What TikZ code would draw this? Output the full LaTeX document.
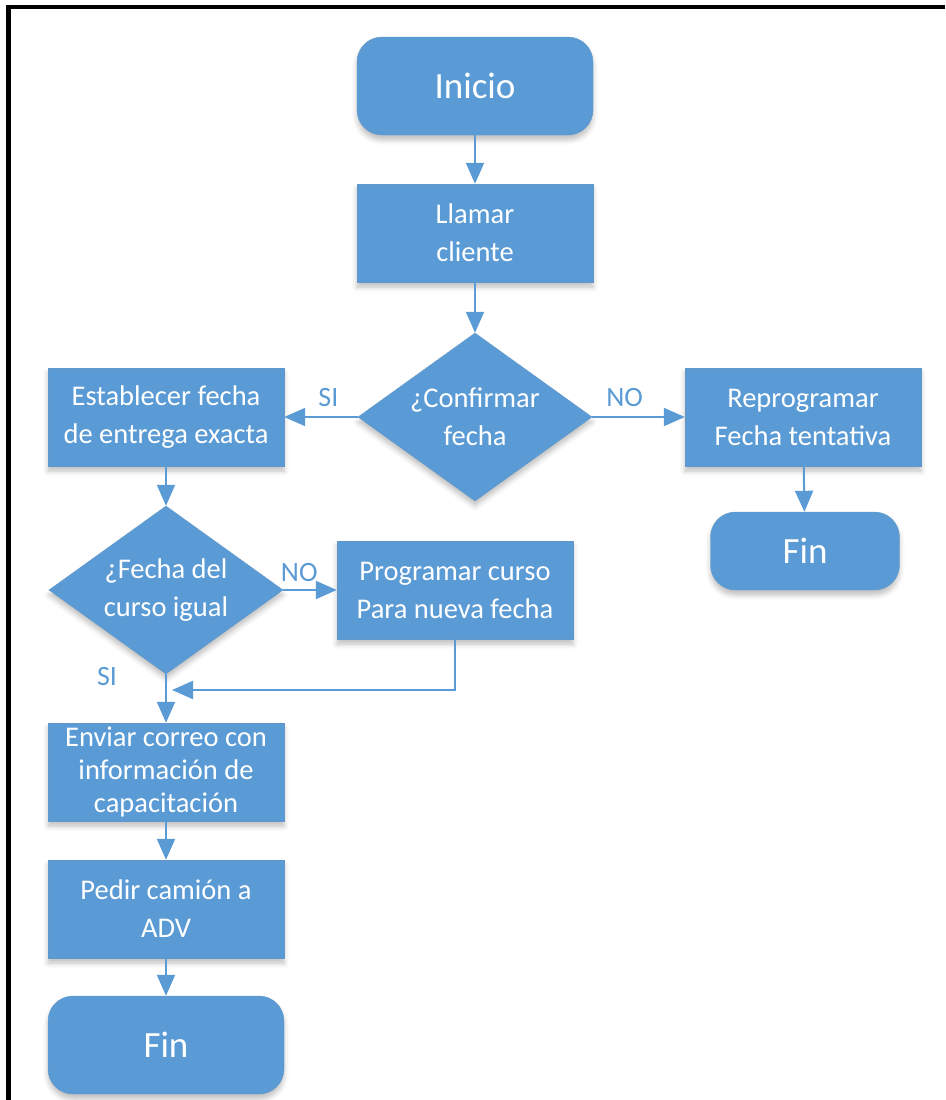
\documentclass[tikz,border=0pt]{standalone}
\usepackage{fontspec}
\setmainfont{Carlito}
\usetikzlibrary{shapes.geometric,arrows.meta,positioning,shadows.blur}
\definecolor{officeblue}{HTML}{5B9BD5}

\begin{document}
\begin{tikzpicture}[x=1pt, y=-1pt,
  proc/.style={rectangle, fill=officeblue, draw=officeblue!85!gray, text=white, minimum width=236pt, minimum height=98pt, inner sep=0pt, align=center, font=\fontsize{28.5}{38}\selectfont, blur shadow={shadow xshift=0pt, shadow yshift=-5pt, shadow blur radius=5pt, shadow opacity=25}},
  term/.style={proc, rounded corners=25pt, font=\fontsize{37}{40}\selectfont},
  dec/.style={diamond, fill=officeblue, draw=officeblue!85!gray, text=white, minimum width=234pt, minimum height=168pt, inner sep=0pt, aspect=1.38, align=center, font=\fontsize{28.5}{38}\selectfont, blur shadow={shadow xshift=0pt, shadow yshift=-5pt, shadow blur radius=5pt, shadow opacity=25}},
  arr/.style={-{Triangle[length=21pt, width=18pt]}, line width=2pt, draw=officeblue},
  lbl/.style={text=officeblue, font=\fontsize{28}{30}\selectfont, inner sep=2pt}
]
  \useasboundingbox (0,0) rectangle (945,1100);
  % marco
  \draw[line width=4.5pt] (8.5,1100) -- (8.5,7) -- (945,7);

  % columna central
  \node[term] (inicio) at (475,86) {Inicio};
  \node[proc] (llamar) at (475,233) {Llamar\\cliente};
  \node[dec] (confirmar) at (475,417) {¿Confirmar\\fecha};
  \node[proc] (establecer) at (166,417) {Establecer fecha\\de entrega exacta};
  \node[proc] (reprog) at (803,417) {Reprogramar\\Fecha tentativa};
  \node[term, minimum width=189pt, minimum height=78pt] (finB) at (805,551) {Fin};

  % columna izquierda
  \node[dec] (curso) at (166,590) {¿Fecha del\\curso igual};
  \node[proc] (programar) at (455,590) {Programar curso\\Para nueva fecha};
  \node[proc, font=\fontsize{28.5}{33}\selectfont] (enviar) at (166,772) {Enviar correo con\\información de\\capacitación};
  \node[proc] (pedir) at (166,909) {Pedir camión a\\ADV};
  \node[term] (finA) at (166,1045) {Fin};
  \coordinate (union) at (172,690);

  \draw[arr] (inicio) -- (llamar);
  \draw[arr] (llamar) -- (confirmar);
  \draw[arr] (confirmar) -- node[lbl, above=7pt, pos=0.4] (si1) {SI} (establecer);
  \draw[arr] (confirmar) -- node[lbl, above=7pt, pos=0.35] (no1) {NO} (reprog);
  \draw[arr] (reprog) -- (finB);
  \draw[arr] (establecer) -- (curso);
  \draw[arr] (curso) -- node[lbl, above=5pt, pos=0.3] (no2) {NO} (programar);
  \draw[arr] (programar.south) |- (union);
  \node[lbl] (si2) at (107,677) {SI};
  \draw[arr] (curso) -- (enviar);
  \draw[arr] (enviar) -- (pedir);
  \draw[arr] (pedir) -- (finA);
\end{tikzpicture}
\end{document}
